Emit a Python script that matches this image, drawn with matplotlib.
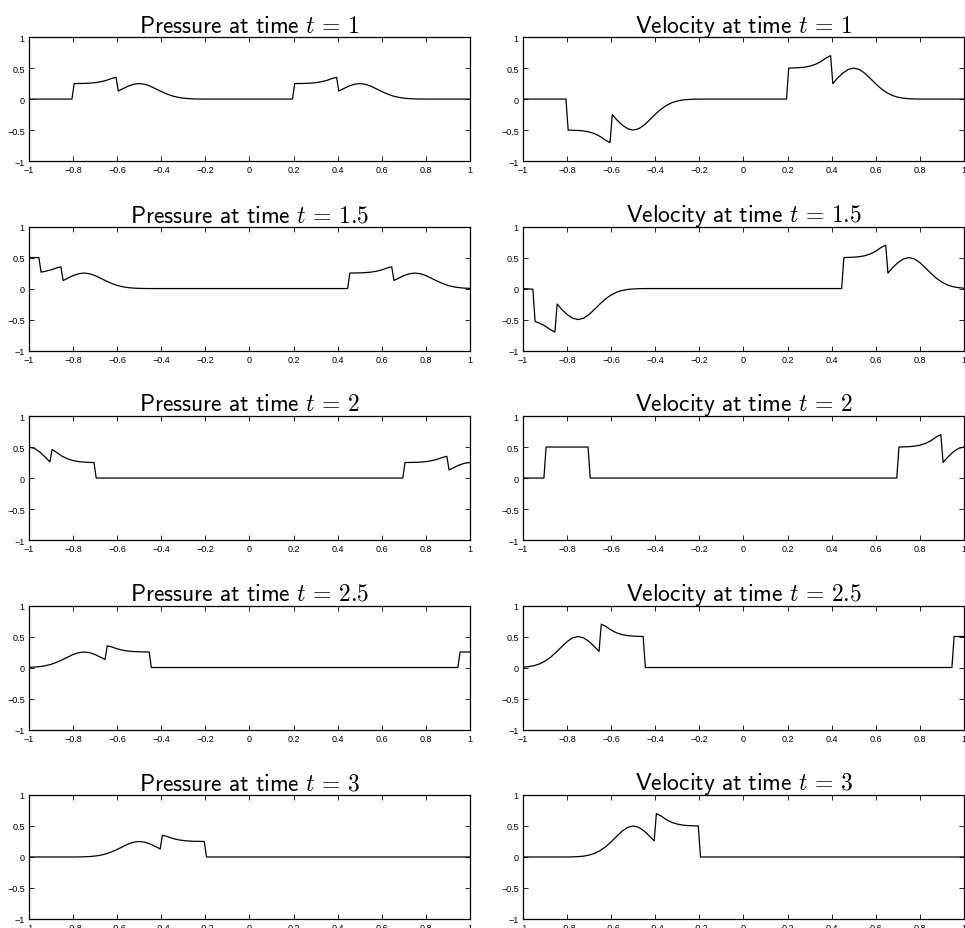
import matplotlib
matplotlib.use('Agg')
import matplotlib.pyplot as plt

# values, (x, value) pairs
pressure_t1 = [(-1, 0), (-0.805, 0), (-0.795, 0.25), (-0.75, 0.253), (-0.725, 0.257), (-0.7, 0.265),
               (-0.675, 0.279), (-0.65, 0.301), (-0.625, 0.333), (-0.605, 0.35), (-0.595, 0.13),
               (-0.575, 0.166), (-0.55, 0.209), (-0.525, 0.239), (-0.5, 0.25), (-0.475, 0.239),
               (-0.45, 0.209), (-0.425, 0.166), (-0.4, 0.122), (-0.375, 0.083), (-0.35, 0.051),
               (-0.325, 0.029), (-0.3, 0.015), (-0.275, 0.007), (-0.25, 0.003), (-0.225, 0.001),
               (-0.2, 0), (0.195, 0), (0.205, 0.25), (0.25, 0.253), (0.275, 0.257), (0.3, 0.265),
               (0.325, 0.279), (0.35, 0.301), (0.375, 0.333), (0.395, 0.35), (0.405, 0.13),
               (0.425, 0.166), (0.45, 0.209), (0.475, 0.239), (0.5, 0.25), (0.525, 0.239),
               (0.55, 0.209), (0.575, 0.166), (0.6, 0.122), (0.625, 0.083), (0.65, 0.051),
               (0.675, 0.029), (0.7, 0.015), (0.725, 0.007), (0.75, 0.003), (0.775, 0.001),
               (0.8, 0), (1, 0)]

velocity_t1 = [(-1, 0), (-0.805, 0), (-0.795, -0.5), (-0.75, -0.506), (-0.725, -0.514), (-0.7, -0.53),
               (-0.675, -0.558), (-0.65, -0.603), (-0.625, -0.665), (-0.605, -0.70), (-0.595, -0.25),
               (-0.575, -0.333), (-0.55, -0.418), (-0.525, -0.478), (-0.5, -0.5), (-0.475, -0.478),
               (-0.45, -0.418), (-0.425, -0.333), (-0.4, -0.245), (-0.375, -0.165), (-0.35, -0.103),
               (-0.325, -0.058), (-0.3, -0.03), (-0.275, -0.014), (-0.25, -0.006), (-0.225, -0.002),
               (-0.2, 0), (0.195, 0), (0.205, 0.5), (0.25, 0.506), (0.275, 0.514), (0.3, 0.53),
               (0.325, 0.558), (0.35, 0.603), (0.375, 0.665), (0.395, 0.70), (0.405, 0.25),
               (0.425, 0.333), (0.45, 0.418), (0.475, 0.478), (0.5, 0.5), (0.525, 0.478),
               (0.55, 0.418), (0.575, 0.333), (0.6, 0.245), (0.625, 0.165), (0.65, 0.103),
               (0.675, 0.058), (0.7, 0.03), (0.725, 0.014), (0.75, 0.006), (0.775, 0.002),
               (0.8, 0), (1, 0)]

pressure_t15 = [(-1, 0.5), (-0.955, 0.5), (-0.945, 0.265), (-0.925, 0.279), (-0.9, 0.301),
                (-0.875, 0.333), (-0.855, 0.35), (-0.845, 0.13), (-0.825, 0.166), (-0.8, 0.209),
                (-0.775, 0.239), (-0.75, 0.25), (-0.725, 0.239), (-0.7, 0.209), (-0.675, 0.166),
                (-0.65, 0.122), (-0.625, 0.083), (-0.6, 0.051), (-0.575, 0.029), (-0.55, 0.015),
                (-0.525, 0.007), (-0.5, 0.003), (-0.475, 0.001), (-0.45, 0), (0.445, 0),
                (0.455, 0.25), (0.5, 0.253), (0.525, 0.257), (0.55, 0.265), (0.575, 0.279),
                (0.6, 0.301), (0.625, 0.333), (0.645, 0.35), (0.655, 0.13), (0.675, 0.166),
                (0.7, 0.209), (0.725, 0.239), (0.75, 0.25), (0.775, 0.239), (0.8, 0.209),
                (0.825, 0.166), (0.85, 0.122), (0.875, 0.083), (0.9, 0.051), (0.925, 0.029),
                (0.95, 0.015), (0.975, 0.007), (1, 0.003)]

velocity_t15 = [(-1, 0), (-0.955, -0.01), (-0.945, -0.53), (-0.925, -0.558), (-0.9, -0.603),
                (-0.875, -0.665), (-0.855, -0.70), (-0.845, -0.25), (-0.825, -0.333), (-0.8, -0.418),
                (-0.775, -0.478), (-0.75, -0.5), (-0.725, -0.478), (-0.7, -0.418), (-0.675, -0.333),
                (-0.65, -0.245), (-0.625, -0.165), (-0.6, -0.103), (-0.575, -0.058), (-0.55, -0.03),
                (-0.525, -0.014), (-0.5, -0.006), (-0.475, -0.002), (-0.45, 0), (0.445, 0),
                (0.455, 0.5), (0.5, 0.506), (0.525, 0.514), (0.55, 0.53), (0.575, 0.558),
                (0.6, 0.603), (0.625, 0.665), (0.645, 0.70), (0.655, 0.25), (0.675, 0.333),
                (0.7, 0.418), (0.725, 0.478), (0.75, 0.5), (0.775, 0.478), (0.8, 0.418),
                (0.825, 0.333), (0.85, 0.245), (0.875, 0.165), (0.9, 0.103), (0.925, 0.058),
                (0.95, 0.03), (0.975, 0.014), (1, 0.006)]

pressure_t2 = [(-1, 0.5), (-0.975, 0.478), (-0.95, 0.418), (-0.925, 0.333), (-0.905, 0.26),
               (-0.895, 0.46), (-0.875, 0.415), (-0.85, 0.353), (-0.825, 0.31), (-0.8, 0.282),
               (-0.775, 0.265), (-0.75, 0.257), (-0.725, 0.252), (-0.705, 0.25), (-0.695, 0),
               (0.695, 0), (0.705, 0.25), (0.75, 0.253), (0.775, 0.257), (0.8, 0.265),
               (0.825, 0.279), (0.85, 0.301), (0.875, 0.333), (0.895, 0.35), (0.905, 0.13),
               (0.925, 0.166), (0.95, 0.209), (0.975, 0.239), (1, 0.25)]

velocity_t2 = [(-1, 0), (-0.905, 0), (-0.895, 0.5), (-0.705, 0.5), (-0.695, 0), (0.695, 0),
               (0.705, 0.5), (0.75, 0.506), (0.775, 0.514), (0.8, 0.53), (0.825, 0.558),
               (0.85, 0.603), (0.875, 0.665), (0.895, 0.70), (0.905, 0.25), (0.925, 0.333),
               (0.95, 0.418), (0.975, 0.478), (1, 0.5)]

pressure_t25 = [(-1, 0.003), (-0.975, 0.007), (-0.95, 0.015), (-0.925, 0.029), (-0.9, 0.051),
                (-0.875, 0.083), (-0.85, 0.122), (-0.825, 0.166), (-0.8, 0.209), (-0.775, 0.239),
                (-0.75, 0.25), (-0.725, 0.239), (-0.7, 0.209), (-0.675, 0.166), (-0.655, 0.13),
                (-0.645, 0.35), (-0.625, 0.333), (-0.6, 0.301), (-0.575, 0.279), (-0.55, 0.265),
                (-0.525, 0.257), (-0.5, 0.253), (-0.455, 0.25), (-0.445, 0), (0.945, 0),
                (0.955, 0.25), (1, 0.25)]

velocity_t25 = [(-1, 0.006), (-0.975, 0.014), (-0.95, 0.03), (-0.925, 0.058), (-0.9, 0.103),
                (-0.875, 0.165), (-0.85, 0.245), (-0.825, 0.333), (-0.8, 0.418), (-0.775, 0.478),
                (-0.75, 0.5), (-0.725, 0.478), (-0.7, 0.418), (-0.675, 0.333), (-0.655, 0.26),
                (-0.645, 0.70), (-0.625, 0.665), (-0.6, 0.603), (-0.575, 0.558), (-0.55, 0.53),
                (-0.525, 0.514), (-0.5, 0.506), (-0.455, 0.5), (-0.445, 0), (0.945, 0),
                (0.955, 0.5), (1, 0.5)]

pressure_t3 = [(-1, 0), (-0.8, 0), (-0.775, 0.001), (-0.75, 0.003), (-0.725, 0.007), (-0.7, 0.015),
               (-0.675, 0.029), (-0.65, 0.051), (-0.625, 0.083), (-0.6, 0.122), (-0.575, 0.166),
               (-0.55, 0.209), (-0.525, 0.239), (-0.5, 0.25), (-0.475, 0.239), (-0.45, 0.209),
               (-0.425, 0.166), (-0.405, 0.13), (-0.395, 0.35), (-0.375, 0.333), (-0.35, 0.301),
               (-0.325, 0.279), (-0.3, 0.265), (-0.275, 0.257), (-0.25, 0.253), (-0.205, 0.25),
               (-0.195, 0), (1, 0)]

velocity_t3 = [(-1, 0), (-0.8, 0), (-0.775, 0.002), (-0.75, 0.006), (-0.725, 0.014), (-0.7, 0.03),
               (-0.675, 0.058), (-0.65, 0.103), (-0.625, 0.165), (-0.6, 0.245), (-0.575, 0.333),
               (-0.55, 0.418), (-0.525, 0.478), (-0.5, 0.5), (-0.475, 0.478), (-0.45, 0.418),
               (-0.425, 0.333), (-0.405, 0.26), (-0.395, 0.70), (-0.375, 0.665), (-0.35, 0.603),
               (-0.325, 0.558), (-0.3, 0.53), (-0.275, 0.514), (-0.25, 0.506), (-0.205, 0.5),
               (-0.195, 0), (1, 0)]

times = ['1', '1.5', '2', '2.5', '3']
pressure = [pressure_t1, pressure_t15, pressure_t2, pressure_t25, pressure_t3]
velocity = [velocity_t1, velocity_t15, velocity_t2, velocity_t25, velocity_t3]

x_ticks = [-1, -0.8, -0.6, -0.4, -0.2, 0, 0.2, 0.4, 0.6, 0.8, 1]
x_labels = ['\u22121', '\u22120.8', '\u22120.6', '\u22120.4', '\u22120.2', '0', '0.2', '0.4', '0.6', '0.8', '1']
y_ticks = [-1, -0.5, 0, 0.5, 1]
y_labels = ['\u22121', '\u22120.5', '0', '0.5', '1']

plt.rcParams['mathtext.fontset'] = 'cm'
plt.rcParams['font.family'] = ['Liberation Sans', 'DejaVu Sans']

fig, axes = plt.subplots(5, 2, figsize=(9.65, 9.29), dpi=100)
fig.subplots_adjust(left=0.030, right=0.999, bottom=0.0097, top=0.959, wspace=0.12, hspace=0.528)

for row in range(5):
    for col in range(2):
        ax = axes[row, col]
        if col == 0:
            data = pressure[row]
            name = r'Pressure\ at\ time'
        else:
            data = velocity[row]
            name = r'Velocity\ at\ time'
        xs = [p[0] for p in data]
        ys = [p[1] for p in data]
        ax.plot(xs, ys, color='black', linewidth=0.9)
        ax.set_xlim(-1, 1)
        ax.set_ylim(-1, 1)
        ax.set_xticks(x_ticks)
        ax.set_xticklabels(x_labels)
        ax.set_yticks(y_ticks)
        ax.set_yticklabels(y_labels)
        ax.tick_params(direction='in', length=3.5, width=0.6, labelsize=6.5, pad=3,
                       top=True, right=True)
        for s in ax.spines.values():
            s.set_linewidth(0.9)
        # latex-like title: sans text, math t = value
        ax.set_title(r'$\mathsf{' + name + r'}\ t\,=\,' + times[row] + '$', fontsize=17, pad=4)

fig.savefig('out.png', dpi=100)
